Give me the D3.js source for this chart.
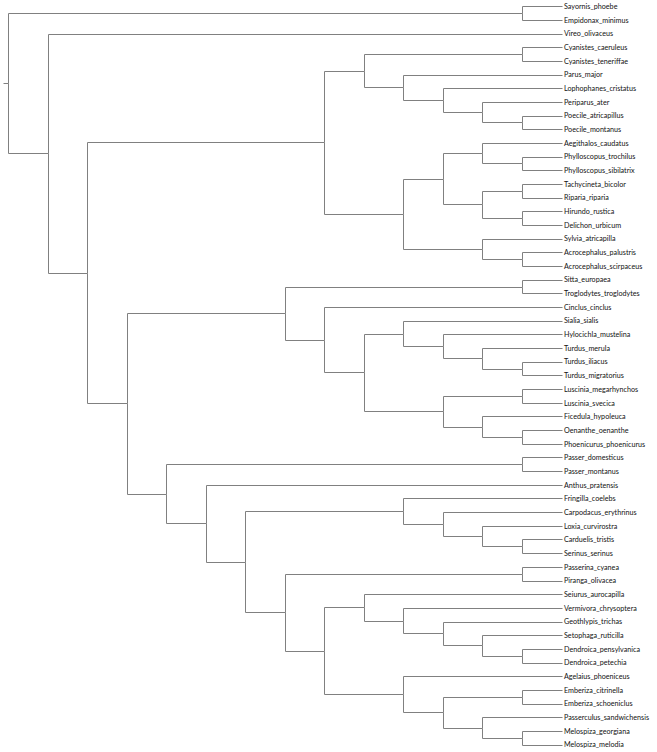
<!DOCTYPE html>
<html>
<head>
<meta charset="utf-8">
<script src="https://cdn.jsdelivr.net/npm/d3@7"></script>
<style>
html,body{margin:0;padding:0;background:#fff;}
svg{display:block;}
</style>
</head>
<body>
<svg id="chart" width="657" height="752"></svg>
<script>
// Clades (Newick pieces)
const cladeParidae = "((Cyanistes_caeruleus,Cyanistes_teneriffae),(Parus_major,(Lophophanes_cristatus,(Periparus_ater,(Poecile_atricapillus,Poecile_montanus)))))";
const cladeSylvioidea = "(((Aegithalos_caudatus,(Phylloscopus_trochilus,Phylloscopus_sibilatrix)),((Tachycineta_bicolor,Riparia_riparia),(Hirundo_rustica,Delichon_urbicum))),(Sylvia_atricapilla,(Acrocephalus_palustris,Acrocephalus_scirpaceus)))";
const cladeMuscicapoidea = "((Sitta_europaea,Troglodytes_troglodytes),(Cinclus_cinclus,((Sialia_sialis,(Hylocichla_mustelina,(Turdus_merula,(Turdus_iliacus,Turdus_migratorius)))),((Luscinia_megarhynchos,Luscinia_svecica),(Ficedula_hypoleuca,(Oenanthe_oenanthe,Phoenicurus_phoenicurus))))))";
const cladePasseroidea = "((Passer_domesticus,Passer_montanus),(Anthus_pratensis,((Fringilla_coelebs,(Carpodacus_erythrinus,(Loxia_curvirostra,(Carduelis_tristis,Serinus_serinus)))),((Passerina_cyanea,Piranga_olivacea),((Seiurus_aurocapilla,(Vermivora_chrysoptera,(Geothlypis_trichas,(Setophaga_ruticilla,(Dendroica_pensylvanica,Dendroica_petechia))))),(Agelaius_phoeniceus,((Emberiza_citrinella,Emberiza_schoeniclus),(Passerculus_sandwichensis,(Melospiza_georgiana,Melospiza_melodia)))))))))";
const cladeTyranni = "(Sayornis_phoebe,Empidonax_minimus)";

const newick = "(" + cladeTyranni + ",(Vireo_olivaceus,((" + cladeParidae + "," + cladeSylvioidea + "),(" +
  cladeMuscicapoidea + "," + cladePasseroidea + "))));";

function parseNewick(s) {
  let i = 0;
  function node() {
    if (s[i] === "(") {
      i++;
      const children = [node()];
      while (s[i] === ",") { i++; children.push(node()); }
      i++; // ')'
      return {children};
    }
    let name = "";
    while (i < s.length && !",();".includes(s[i])) name += s[i++];
    return {name};
  }
  return node();
}

const svg = d3.select("#chart");
const root = d3.hierarchy(parseNewick(newick));
d3.cluster().size([1, 1]).separation(() => 1)(root);

const leaves = root.leaves();
const yScale = d3.scaleLinear().domain(d3.extent(leaves, d => d.x)).range([6.2, 744.6]);
const xScale = d3.scaleLinear().domain([0, 1]).range([8, 561.5]);

const g = svg.append("g");
const px = v => Math.round(v) + 0.5;

g.selectAll("path.link")
  .data(root.links())
  .join("path")
  .attr("class", "link")
  .attr("fill", "none")
  .attr("stroke", "#808080")
  .attr("stroke-width", 1)
  .attr("d", d => {
    const sx = px(xScale(d.source.y)), sy = px(yScale(d.source.x));
    const tx = px(xScale(d.target.y)), ty = px(yScale(d.target.x));
    return `M${sx},${sy}V${ty}H${tx}`;
  });

// root stub
g.append("path")
  .attr("fill", "none")
  .attr("stroke", "#808080")
  .attr("stroke-width", 1)
  .attr("d", `M${px(xScale(root.y)) - 5},${px(yScale(root.x))}H${px(xScale(root.y))}`);

// Labels: Lato, lightly condensed to the reference width
const fontSize = 7.9;
const fontFamily = "Lato, 'Open Sans', sans-serif";
const probe = svg.append("text").attr("font-family", fontFamily)
  .attr("font-size", fontSize).text("Passerculus_sandwichensis");
const squeeze = Math.min(1, 85 / probe.node().getComputedTextLength());
probe.remove();

const labels = g.selectAll("text.leaf")
  .data(leaves)
  .join("text")
  .attr("class", "leaf")
  .attr("x", d => xScale(d.y) + 2.5)
  .attr("y", d => yScale(d.x))
  .attr("dy", "0.35em")
  .attr("font-family", fontFamily)
  .attr("font-size", fontSize)
  .attr("fill", "#111")
  .text(d => d.data.name);

labels.each(function() {
  const w = this.getComputedTextLength();
  d3.select(this).attr("textLength", (w * squeeze).toFixed(2)).attr("lengthAdjust", "spacingAndGlyphs");
});
</script>
</body>
</html>
